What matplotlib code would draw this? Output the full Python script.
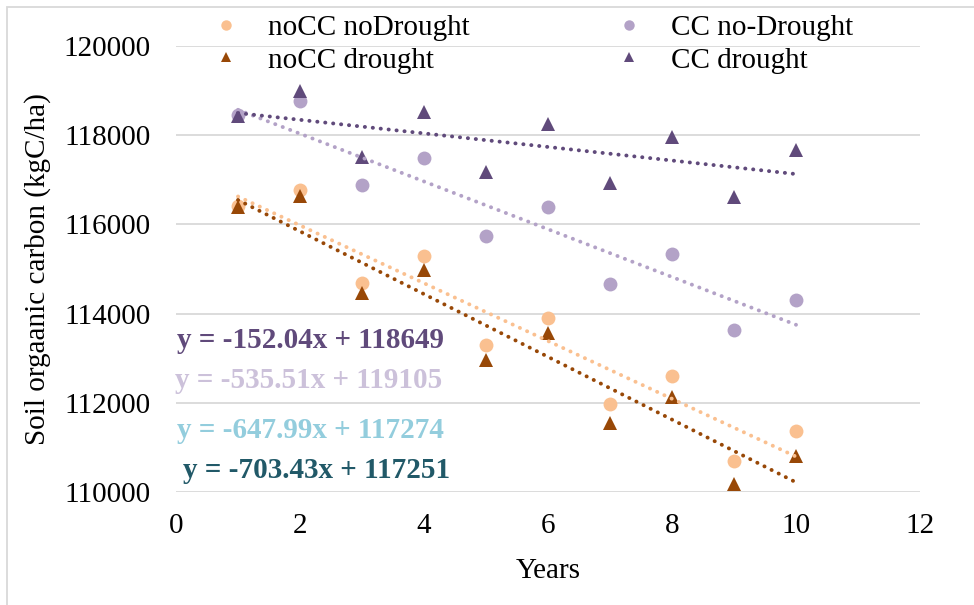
import matplotlib
matplotlib.use("Agg")
import matplotlib.pyplot as plt
from matplotlib.patches import Rectangle
import numpy as np

plt.rcParams['font.family'] = ['Liberation Serif', 'DejaVu Serif']

years = [1, 2, 3, 4, 5, 6, 7, 8, 9, 10]
nocc_nodrought = [116410, 116770, 114690, 115290, 113290, 113900, 111970, 112610, 110700, 111360]
nocc_drought = [116380, 116630, 114470, 114970, 112970, 113570, 111540, 112140, 110180, 110810]
cc_nodrought = [118460, 118760, 116880, 117490, 115740, 116390, 114660, 115330, 113630, 114300]
cc_drought = [118420, 119000, 117520, 118530, 117180, 118250, 116920, 117970, 116620, 117670]

series_names = ["noCC noDrought", "noCC drought", "CC no-Drought", "CC drought"]
series_vals = [nocc_nodrought, nocc_drought, cc_nodrought, cc_drought]
series_colors = ["#FAC090", "#984807", "#B3A2C7", "#604A7B"]
series_markers = ["o", "^", "o", "^"]

# linear trend lines (Excel trendlines)
slopes = [-647.99, -703.43, -535.51, -152.04]
intercepts = [117274, 117251, 119105, 118649]

# equation labels, top to bottom
eq_order = [3, 2, 0, 1]
eq_colors = ["#604A7B", "#CCC1DA", "#93CDDD", "#215968"]

W, H = 974, 605
fig = plt.figure(figsize=(W / 100, H / 100), dpi=100)
ax = fig.add_axes([176 / W, 1 - 492 / H, (920 - 176) / W, (492 - 46) / H])

for name, vals, c, m in zip(series_names, series_vals, series_colors, series_markers):
    ax.plot(years, vals, linestyle='none', marker=m, markersize=10, color=c,
            markeredgewidth=0, label=name, zorder=3)

xs = np.array([years[0], years[-1]], dtype=float)
for s, b, c in zip(slopes, intercepts, series_colors):
    ax.plot(xs, s * xs + b, color=c, lw=2.8, linestyle=(0, (0.05, 2.0)),
            dash_capstyle='round', zorder=4)

ax.set_xlim(0, 12)
ax.set_ylim(110000, 120000)
ax.set_xticks(range(0, 13, 2))
ax.set_yticks(range(110000, 120001, 2000))
ax.tick_params(axis='both', length=0, labelsize=21, colors='black')
ax.tick_params(axis='y', pad=18)
ax.tick_params(axis='x', pad=15)
ax.grid(axis='y', color='#D9D9D9', lw=1.3)
ax.set_axisbelow(True)
for sp in ax.spines.values():
    sp.set_visible(False)

ax.set_xlabel("Years", fontsize=21, labelpad=14)
ax.set_ylabel("Soil orgaanic carbon (kgC/ha)", fontsize=21, labelpad=9)

eq_y = [341, 381, 430, 471]
eq_x = [177, 175, 177, 183]
for k, idx in enumerate(eq_order):
    txt = f"y = {slopes[idx]:.2f}x + {intercepts[idx]:.0f}"
    fig.text(eq_x[k] / W, 1 - eq_y[k] / H, txt, color=eq_colors[k], fontsize=21,
             fontweight='bold', ha='left', va='center')

handles, labels = ax.get_legend_handles_labels()
leg = fig.legend(handles, labels, ncol=2, loc='upper left',
                 bbox_to_anchor=(204 / W, 1 - 15 / H), frameon=False,
                 fontsize=21, markerscale=0.75, handlelength=1.5,
                 handletextpad=0.7, columnspacing=4.7, labelspacing=0.2,
                 borderpad=0, borderaxespad=0)

fig.patches.append(Rectangle((7 / W, -0.05), 1.1, 1 - 7 / H + 0.05,
                             transform=fig.transFigure, fill=False,
                             edgecolor='#D9D9D9', lw=1.3))

fig.savefig("out.png", dpi=100)
